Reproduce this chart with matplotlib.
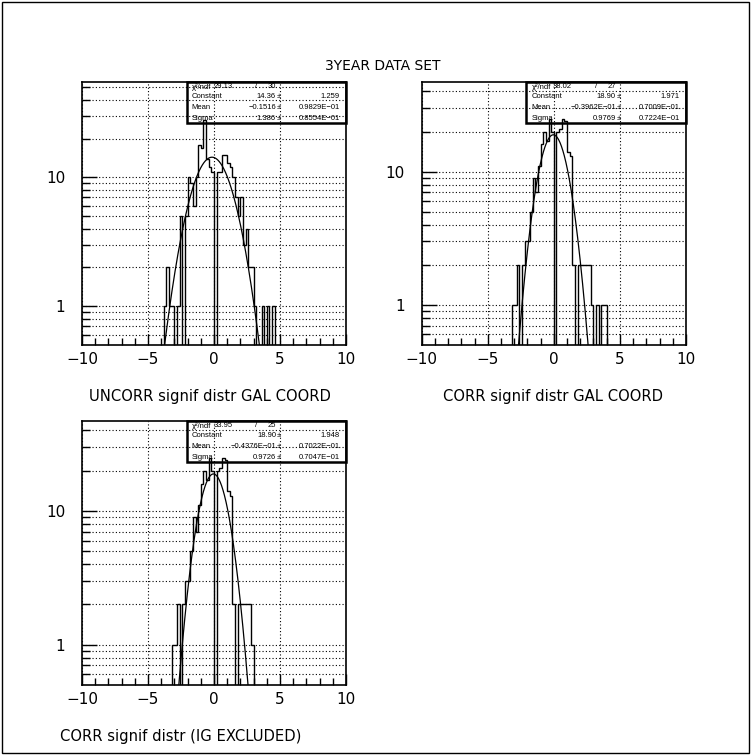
import numpy as np
import matplotlib
matplotlib.use('Agg')
import matplotlib.pyplot as plt
from matplotlib.patches import Rectangle

plt.rcParams['font.family'] = ['DejaVu Sans']

# 100 bins on [-10, 10]; stored counts start at the bin with left edge first_bin
edges = np.linspace(-10, 10, 101)
first_bin = -4.0

uncorr_counts = [0, 1, 2, 1, 1, 0, 1, 5, 0, 5, 10, 9, 6, 10, 18, 17, 28, 14, 12, 11,
                 0, 11, 11, 15, 15, 13, 12, 10, 7, 5, 7, 3, 4, 2, 2, 1, 0, 0, 1, 0,
                 1, 0, 1]
corr_counts = [0, 0, 0, 0, 1, 1, 2, 0, 2, 3, 3, 5, 9, 7, 11, 16, 20, 17, 25, 20,
               0, 20, 21, 25, 24, 14, 13, 2, 0, 2, 2, 2, 2, 2, 1, 0, 1, 0, 1, 1]
corr_ig_counts = [0, 0, 0, 0, 1, 1, 2, 0, 2, 3, 3, 5, 9, 7, 11, 16, 20, 17, 25, 20,
                  0, 20, 21, 25, 24, 14, 13, 2, 0, 2, 2, 2, 2, 2, 1]

# gaussian fit: constant, mean, sigma and their errors
uncorr_fit = [14.36, -0.1516, 1.386]
uncorr_err = [1.259, 0.09829, 0.08554]
corr_fit = [18.90, -0.03962, 0.9769]
corr_err = [1.971, 0.07009, 0.07224]
corr_ig_fit = [18.90, -0.04376, 0.9726]
corr_ig_err = [1.948, 0.07022, 0.07047]

chi2 = [29.13, 38.02, 33.95]
ndf = [30, 27, 25]

titles = ["UNCORR signif distr GAL COORD",
          "CORR signif distr GAL COORD",
          "CORR signif distr (IG EXCLUDED)"]


def paw(v):
    # 4 significant digits, small numbers as 0.xxxxE-nn
    if abs(v) >= 0.1:
        s = '%#.4g' % v
    else:
        e = int(np.floor(np.log10(abs(v)))) + 1
        s = '%.4fE%+03d' % (v / 10.0 ** e, e)
    return s.replace('-', '\u2212')


def draw_panel(ax, counts, fit, err, chi, nd, ytop):
    vals = np.full(len(edges) - 1, 1e-3)
    i0 = int(round((first_bin + 10) / 0.2))
    vals[i0:i0 + len(counts)] = counts
    vals[vals <= 0] = 1e-3
    ax.stairs(vals, edges, baseline=None, color='black', lw=1.0)

    xs = np.linspace(-10, 10, 2000)
    ax.plot(xs, fit[0] * np.exp(-0.5 * ((xs - fit[1]) / fit[2]) ** 2), color='black', lw=0.9)

    ax.set_yscale('log')
    ax.set_xlim(-10, 10)
    ax.set_ylim(0.5, ytop)
    ax.set_xticks([-10, -5, 0, 5, 10])
    ax.set_xticks(np.arange(-10, 11, 1), minor=True)
    ax.set_xticklabels(['\u221210', '\u22125', '0', '5', '10'])
    ax.set_yticks([1, 10])
    ax.set_yticklabels(['1', '10'])
    minor = [0.6, 0.7, 0.8, 0.9] + list(range(2, 10)) + [20, 30, 40, 50]
    ax.set_yticks([m for m in minor if m < ytop], minor=True)
    ax.yaxis.set_minor_formatter(plt.NullFormatter())
    ax.tick_params(which='both', direction='in', top=False, right=False, labelsize=11, width=1)
    ax.tick_params(axis='y', which='major', length=11, pad=12)
    ax.tick_params(axis='y', which='minor', length=6)
    ax.tick_params(axis='x', which='major', length=8, pad=5)
    ax.tick_params(axis='x', which='minor', length=5)
    ax.set_axisbelow(True)
    ax.yaxis.grid(True, which='both', ls=(0, (1, 2)), color='black', lw=0.8)
    ax.xaxis.grid(True, which='major', ls=(0, (1, 2)), color='black', lw=0.8)
    for sp in ax.spines.values():
        sp.set_linewidth(1.2)

    # statistics box
    ax.add_patch(Rectangle((0.3966, 0.845), 0.6034, 0.155, transform=ax.transAxes,
                           fill=False, lw=1.8, color='black', clip_on=False))
    rows = [0.982, 0.944, 0.904, 0.862]
    tx = dict(transform=ax.transAxes, fontsize=5.5, family='Liberation Sans', va='center')
    ax.text(0.4155, rows[0], '\u03c7\u00b2/ndf', ha='left', **tx)
    ax.text(0.497, rows[0], '%.2f' % chi, ha='left', **tx)
    ax.text(0.66, rows[0], '/', ha='center', **tx)
    ax.text(0.735, rows[0], '%d' % nd, ha='right', **tx)
    names = ['Constant', 'Mean', 'Sigma']
    for k in range(3):
        ax.text(0.4155, rows[k + 1], names[k], ha='left', **tx)
        ax.text(0.735, rows[k + 1], paw(fit[k]), ha='right', **tx)
        ax.text(0.738, rows[k + 1], '\u00b1', ha='left', **tx)
        ax.text(0.977, rows[k + 1], paw(err[k]), ha='right', **tx)


fig = plt.figure(figsize=(7.51, 7.55), dpi=100)
fig.patches.append(Rectangle((0.002, 0.002), 0.996, 0.996, transform=fig.transFigure,
                             fill=False, lw=1, color='black'))

ax1 = fig.add_axes([0.1092, 0.5430, 0.3515, 0.3483])
ax2 = fig.add_axes([0.5615, 0.5430, 0.3519, 0.3483])
ax3 = fig.add_axes([0.1092, 0.0927, 0.3515, 0.3497])

draw_panel(ax1, uncorr_counts, uncorr_fit, uncorr_err, chi2[0], ndf[0], 55)
draw_panel(ax2, corr_counts, corr_fit, corr_err, chi2[1], ndf[1], 47)
draw_panel(ax3, corr_ig_counts, corr_ig_fit, corr_ig_err, chi2[2], ndf[2], 47)

fig.text(383 / 751, 1 - 66 / 755, '3YEAR DATA SET', ha='center', va='center', fontsize=10)
fig.text(210 / 751, 1 - 397 / 755, titles[0], ha='center', va='center', fontsize=10.6)
fig.text(553 / 751, 1 - 397 / 755, titles[1], ha='center', va='center', fontsize=10.6)
fig.text(181 / 751, 1 - 737 / 755, titles[2], ha='center', va='center', fontsize=10.6)

fig.savefig('out.png', dpi=100)
